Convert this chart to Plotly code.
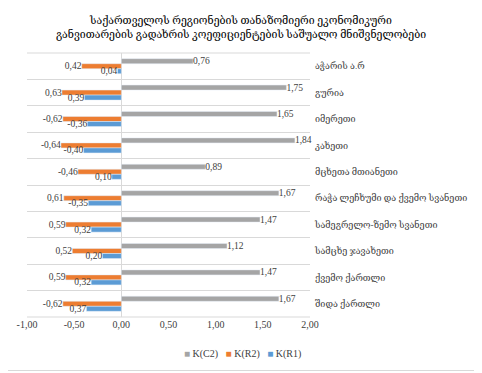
import plotly.graph_objects as go

categories = ["აჭარის ა.რ", "გურია", "იმერეთი", "კახეთი", "მცხეთა მთიანეთი",
              "რაჭა ლეჩხუმი და ქვემო სვანეთი", "სამეგრელო-ზემო სვანეთი",
              "სამცხე ჯავახეთი", "ქვემო ქართლი", "შიდა ქართლი"]
k_c2 = [0.76, 1.75, 1.65, 1.84, 0.89, 1.67, 1.47, 1.12, 1.47, 1.67]
k_r2 = [-0.42, -0.63, -0.62, -0.64, -0.46, -0.61, -0.59, -0.52, -0.59, -0.62]
k_r1 = [-0.04, -0.39, -0.36, -0.40, -0.10, -0.35, -0.32, -0.20, -0.32, -0.37]
labels_c2 = ["0,76", "1,75", "1,65", "1,84", "0,89", "1,67", "1,47", "1,12", "1,47", "1,67"]
labels_r2 = ["0,42", "0,63", "-0,62", "-0,64", "-0,46", "0,61", "0,59", "0,52", "0,59", "-0,62"]
labels_r1 = ["0,04", "0,39", "-0,36", "-0,40", "0,10", "-0,35", "0,32", "0,20", "0,32", "0,37"]
series_names = ["K(C2)", "K(R2)", "K(R1)"]
series_colors = ["#A5A5A5", "#ED7D31", "#5B9BD5"]
x_ticks = [-1.0, -0.5, 0.0, 0.5, 1.0, 1.5, 2.0]
x_tick_text = ["-1,00", "-0,50", "0,00", "0,50", "1,00", "1,50", "2,00"]

FONT = "Liberation Serif, DejaVu Serif, serif"

fig = go.Figure()
for name, vals, txt, col in zip(series_names, [k_c2, k_r2, k_r1],
                                [labels_c2, labels_r2, labels_r1], series_colors):
    fig.add_trace(go.Bar(y=categories, x=vals, orientation="h", name=name,
                         marker_color=col, text=txt, textposition="outside",
                         constraintext="none", showlegend=False,
                         textfont=dict(size=9.5, color="#404040", family=FONT),
                         cliponaxis=False))

# page body has an 8px default margin, so figure origin is at (8, 8) in the window
OFF = 8
W, H = 482 - OFF, 373 - OFF
L, R, T, B = 27 - OFF, 310 - OFF, 53 - OFF, 317 - OFF
pw, ph = R - L, B - T

def px(x):
    return (x - OFF - L) / pw

def py(y):
    return (B - (y - OFF)) / ph

legend_text = "&nbsp;&nbsp;&nbsp;".join(
    f'<span style="color:{c}">■</span> {n}' for n, c in zip(series_names, series_colors))

fig.update_layout(
    width=W, height=H,
    margin=dict(l=L, r=W - R, t=T, b=H - B, autoexpand=False),
    paper_bgcolor="white", plot_bgcolor="white",
    barmode="group", bargap=0.43, bargroupgap=0,
    font=dict(family=FONT, size=10, color="#404040"),
    uniformtext=dict(mode=False),
    title=dict(text="საქართველოს რეგიონების თანაზომიერი ეკონომიკური<br>განვითარების გადახრის კოეფიციენტების საშუალო მნიშვნელობები",
               x=px(241), xref="paper", xanchor="center",
               y=1 - (24 - OFF) / H, yanchor="middle",
               font=dict(size=10.5, color="#000000", family=FONT)),
    showlegend=False,
    annotations=[dict(text=legend_text, xref="paper", yref="paper",
                      x=px(242), y=py(354), xanchor="center", yanchor="middle",
                      showarrow=False, font=dict(size=10, color="#404040", family=FONT))],
    xaxis=dict(range=[-1, 2], tickvals=x_ticks, ticktext=x_tick_text, automargin=False,
               showgrid=False, zeroline=True, zerolinecolor="#D9D9D9", zerolinewidth=1,
               showline=False, ticks="", tickfont=dict(size=10, color="#404040")),
    yaxis=dict(autorange="reversed", side="right", tickson="boundaries", automargin=False,
               showgrid=True, gridcolor="#D9D9D9", gridwidth=1,
               showline=False, ticks="", ticklabelstandoff=4,
               tickfont=dict(size=9, color="#404040")),
    shapes=[
        dict(type="rect", xref="paper", yref="paper",
             x0=px(4.5), x1=px(478.5), y0=py(3.5), y1=py(370.5),
             line=dict(color="#D9D9D9", width=1), fillcolor="rgba(0,0,0,0)", layer="below"),
        dict(type="line", xref="paper", yref="paper", x0=0, x1=1, y0=1, y1=1,
             line=dict(color="#D9D9D9", width=1)),
        dict(type="line", xref="paper", yref="paper", x0=0, x1=1, y0=0, y1=0,
             line=dict(color="#D9D9D9", width=1)),
    ],
)

fig.write_html("out.html")
